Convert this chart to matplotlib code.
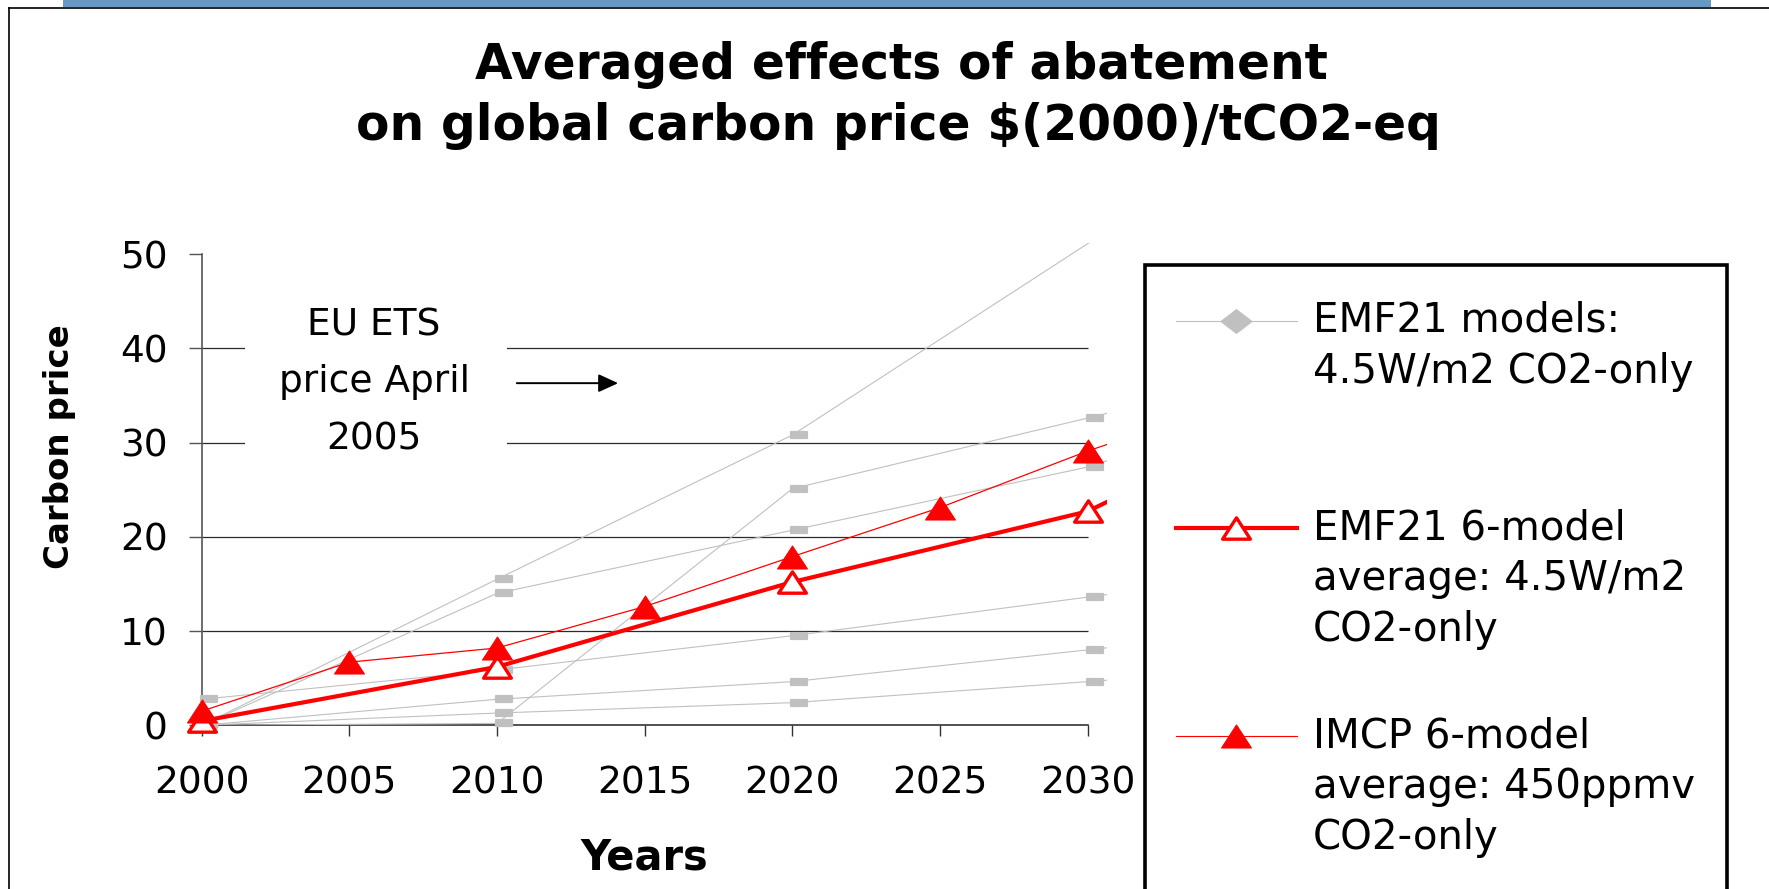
import matplotlib
matplotlib.use('Agg')
import matplotlib.pyplot as plt
from matplotlib.path import Path
from matplotlib.markers import MarkerStyle
from matplotlib.lines import Line2D
from matplotlib.patches import Rectangle
import numpy as np

plt.rcParams['font.family'] = ['DejaVu Sans']

# ---------------- data ----------------
model_years = [2000, 2010, 2020, 2030, 2040]
emf21_model_a = [0.0, 15.5, 30.8, 51.1, 72.0]
emf21_model_b = [0.0, 14.0, 20.7, 27.4, 37.6]
emf21_model_c = [2.76, 5.87, 9.5, 13.6, 17.7]
emf21_model_d = [0.0, 2.76, 4.63, 8.0, 11.4]
emf21_model_e = [0.0, 1.3, 2.4, 4.63, 7.0]
emf21_model_f = [0.0, 0.2, 25.1, 32.6, 40.2]
emf21_models = [emf21_model_a, emf21_model_b, emf21_model_c,
                emf21_model_d, emf21_model_e, emf21_model_f]

emf21_avg_years = [2000, 2010, 2020, 2030, 2040]
emf21_avg = [0.45, 6.2, 15.2, 22.7, 38.0]

imcp_years = [2000, 2005, 2010, 2015, 2020, 2025, 2030, 2035]
imcp_avg = [1.5, 6.7, 8.2, 12.6, 17.9, 23.1, 29.1, 34.4]

x_ticks = [2000, 2005, 2010, 2015, 2020, 2025, 2030]
y_ticks = [0, 10, 20, 30, 40, 50]

title_lines = ["Averaged effects of abatement",
               "on global carbon price $(2000)/tCO2-eq"]
legend_labels = [["EMF21 models:", "4.5W/m2 CO2-only"],
                 ["EMF21 6-model", "average: 4.5W/m2", "CO2-only"],
                 ["IMCP 6-model", "average: 450ppmv", "CO2-only"]]
annotation_text = "EU ETS\nprice April\n2005"

# ---------------- styles ----------------
GRAY = '#C0C0C0'
RED = '#FF0000'
W, H = 1769, 889

tri_path = Path([(-0.65, -0.5), (0.65, -0.5), (0.0, 0.5), (-0.65, -0.5)],
                [Path.MOVETO, Path.LINETO, Path.LINETO, Path.CLOSEPOLY])
d = 0.87
rect_path = Path([(-1 + d, -0.35), (1 + d, -0.35), (1 + d, 0.35),
                  (-1 + d, 0.35), (-1 + d, -0.35)],
                 [Path.MOVETO, Path.LINETO, Path.LINETO, Path.LINETO, Path.CLOSEPOLY])
diamond_path = Path([(0, 0.5), (0.65, 0), (0, -0.5), (-0.65, 0), (0, 0.5)],
                    [Path.MOVETO, Path.LINETO, Path.LINETO, Path.LINETO, Path.CLOSEPOLY])

m_tri = MarkerStyle(tri_path, joinstyle='miter')
m_rect = MarkerStyle(rect_path, joinstyle='round')
m_diam = MarkerStyle(diamond_path)

fig = plt.figure(figsize=(W / 100, H / 100), dpi=100)
fig.patch.set_facecolor('white')

# top decorations (slide frame)
fig.add_artist(Rectangle((63 / W, 1 - 7 / H), (1711 - 63) / W, 7 / H,
                         transform=fig.transFigure, facecolor='#6699C4',
                         edgecolor='none'))
fig.add_artist(Line2D([9 / W, 1.0], [1 - 7.5 / H, 1 - 7.5 / H],
                      transform=fig.transFigure, color='black', lw=1.2))
fig.add_artist(Line2D([9 / W, 9 / W], [0.0, 1 - 7.5 / H],
                      transform=fig.transFigure, color='black', lw=1.2))

ax = fig.add_axes([201.7 / W, 163.7 / H, 905.2 / W, 482.1 / H])
ax.set_xlim(2000, 2030.65)
ax.set_ylim(0, 51.15)
ax.set_facecolor('none')

for s in ['top', 'right']:
    ax.spines[s].set_visible(False)
ax.spines['left'].set_bounds(0, 50)
ax.spines['left'].set_color('#555555')
ax.spines['left'].set_linewidth(1.2)
ax.spines['bottom'].set_bounds(2000, 2030)
ax.spines['bottom'].set_color('#333333')
ax.spines['bottom'].set_linewidth(1.2)

ax.set_xticks(x_ticks)
ax.set_yticks(y_ticks)
ax.tick_params(axis='x', direction='out', length=8, width=1, color='#333333',
               pad=21, labelsize=27, labelcolor='black')
ax.tick_params(axis='y', direction='out', length=9.4, width=1, color='#555555',
               pad=15, labelsize=27, labelcolor='black')

# gridlines
ax.hlines([10, 20, 30, 40], 2000, 2030, color='#2a2a2a', lw=0.9, zorder=1)

# white box behind annotation
ax.add_patch(Rectangle((2001.47, 28.0), 8.87, 18.0, facecolor='white',
                       edgecolor='none', zorder=1.5))
ax.text(2005.84, 36.4, annotation_text, ha='center', va='center',
        fontsize=27, linespacing=1.75, zorder=2)
ax.annotate('', xy=(2014.1, 36.3), xytext=(2010.67, 36.3),
            arrowprops=dict(arrowstyle='-|>,head_length=1.2,head_width=0.55',
                            color='black', lw=1.4, shrinkA=0, shrinkB=0,
                            mutation_scale=10), zorder=2)

# EMF21 models (gray)
yrs = np.array(model_years)
for vals in emf21_models:
    v = np.array(vals, dtype=float)
    ax.plot(yrs, v, color=GRAY, lw=0.8, zorder=3)
    mask = (yrs <= 2030) & (v <= 50)
    ax.plot(yrs[mask], v[mask], ls='none', marker=m_rect, ms=21,
            mfc=GRAY, mec=GRAY, mew=1.6, clip_on=False, zorder=3)

# EMF21 6-model average
ea_y = np.array(emf21_avg_years)
ea_v = np.array(emf21_avg)
ax.plot(ea_y, ea_v, color=RED, lw=3.0, zorder=4)
mk = ea_y <= 2030
ax.plot(ea_y[mk], ea_v[mk], ls='none', marker=m_tri, ms=20, mfc='white',
        mec=RED, mew=2.4, clip_on=False, zorder=5)

# IMCP 6-model average
im_y = np.array(imcp_years)
im_v = np.array(imcp_avg)
ax.plot(im_y, im_v, color=RED, lw=0.9, zorder=4)
mk = im_y <= 2030
ax.plot(im_y[mk], im_v[mk], ls='none', marker=m_tri, ms=21.5, mfc=RED,
        mec=RED, mew=0.8, clip_on=False, zorder=6)

# titles and axis labels
fig.text(901 / W, 1 - 79 / H, title_lines[0], ha='center', va='baseline',
         fontsize=35, fontweight='bold')
fig.text(898 / W, 1 - 140 / H, title_lines[1], ha='center', va='baseline',
         fontsize=35, fontweight='bold')
fig.text(59 / W, 1 - 447 / H, 'Carbon price', rotation=90, ha='center',
         va='center', fontsize=24.5, fontweight='bold')
fig.text(644 / W, 1 - 869 / H, 'Years', ha='center', va='baseline',
         fontsize=30, fontweight='bold')

# legend (drawn manually)
fig.add_artist(Rectangle((1145 / W, -0.05), (1727 - 1145) / W,
                         1.05 - 265 / H, transform=fig.transFigure,
                         facecolor='none', edgecolor='black', lw=2.6))
handle_y = [320.5, 528, 735.7]
first_base = [331.5, 539, 747]
styles = [dict(color=GRAY, lw=0.8, marker=m_diam, ms=22, mfc=GRAY, mec=GRAY),
          dict(color=RED, lw=3.0, marker=m_tri, ms=20, mfc='white', mec=RED, mew=2.4),
          dict(color=RED, lw=0.8, marker=m_tri, ms=21.5, mfc=RED, mec=RED, mew=0.8)]
for hy, fb, st, labs in zip(handle_y, first_base, styles, legend_labels):
    yf = 1 - hy / H
    fig.add_artist(Line2D([1176 / W, 1297 / W], [yf, yf],
                          transform=fig.transFigure, **{k: v for k, v in st.items()
                                                        if k in ('color', 'lw')}))
    fig.add_artist(Line2D([1236 / W], [yf], transform=fig.transFigure, ls='none',
                          **{k: v for k, v in st.items() if k not in ('color', 'lw')}))
    for i, lab in enumerate(labs):
        fig.text(1313 / W, 1 - (fb + 51 * i) / H, lab, ha='left', va='baseline',
                 fontsize=29)

fig.savefig('out.png', dpi=100, facecolor='white')
